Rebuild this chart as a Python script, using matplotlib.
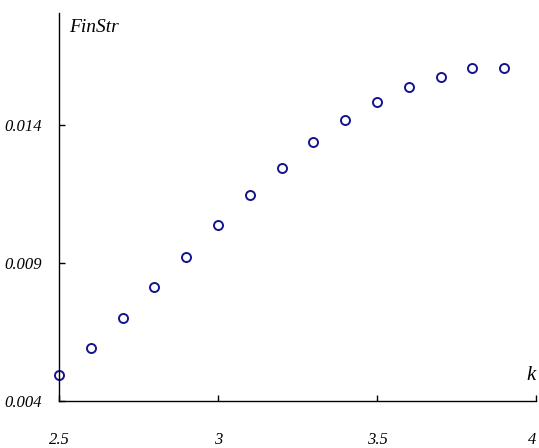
import matplotlib.pyplot as plt

k = [2.5, 2.6, 2.7, 2.8, 2.9, 3.0, 3.1, 3.2, 3.3, 3.4, 3.5, 3.6, 3.7, 3.8, 3.9]
fin_str = [0.00494, 0.00592, 0.00701, 0.00813, 0.00922, 0.01038, 0.01146,
           0.01245, 0.01337, 0.01417, 0.01483, 0.01539, 0.01575, 0.01607, 0.01607]

x_ticks = [2.5, 3, 3.5, 4]
x_labels = ["2.5", "3", "3.5", "4"]
y_ticks = [0.004, 0.009, 0.014]
y_labels = ["0.004", "0.009", "0.014"]

plt.rcParams["font.family"] = ["Liberation Serif", "DejaVu Serif"]

fig = plt.figure(figsize=(5.39, 4.48), dpi=100)
ax = fig.add_axes([0.1095, 0.1049, 0.885, 0.866])

ax.plot(k, fin_str, linestyle="none", marker="o", markersize=6.5,
        markerfacecolor="none", markeredgecolor="#14148c", markeredgewidth=1.4,
        clip_on=False)

ax.set_xlim(2.5, 4)
ax.set_ylim(0.004, 0.01806)

ax.spines["top"].set_visible(False)
ax.spines["right"].set_visible(False)
ax.spines["left"].set_linewidth(1.0)
ax.spines["bottom"].set_linewidth(1.0)

ax.set_xticks(x_ticks)
ax.set_xticklabels(x_labels, fontstyle="italic", fontsize=12)
ax.set_yticks(y_ticks)
ax.set_yticklabels(y_labels, fontstyle="italic", fontsize=12)
ax.tick_params(axis="x", direction="in", length=4, width=1, pad=22)
ax.tick_params(axis="y", direction="in", length=4, width=1, pad=12)
# keep the last x label inside the figure
ax.get_xticklabels()[-1].set_horizontalalignment("right")

ax.text(0.022, 0.985, "FinStr", transform=ax.transAxes, fontstyle="italic",
        fontsize=14, ha="left", va="top")
ax.text(1.0, 0.04, "k", transform=ax.transAxes, fontstyle="italic",
        fontsize=15, ha="right", va="bottom")

fig.savefig("out.png", dpi=100)
